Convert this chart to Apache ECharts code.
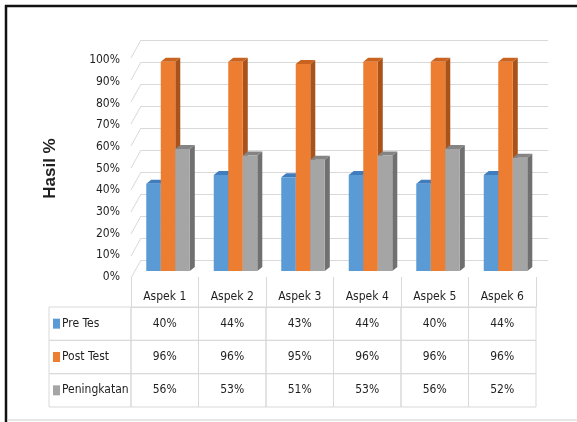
<!DOCTYPE html>
<html>
<head>
<meta charset="utf-8">
<script src="https://cdn.jsdelivr.net/npm/echarts@6/dist/echarts.min.js"></script>
<style>
html,body{margin:0;padding:0;background:#fff;}
#c{width:577px;height:422px;}
</style>
</head>
<body>
<div id="c"></div>
<script>
const categories = ['Aspek 1', 'Aspek 2', 'Aspek 3', 'Aspek 4', 'Aspek 5', 'Aspek 6'];
const seriesNames = ['Pre Tes', 'Post Test', 'Peningkatan'];
const preTes = [40, 44, 43, 44, 40, 44];
const postTest = [96, 96, 95, 96, 96, 96];
const peningkatan = [56, 53, 51, 53, 56, 52];
const yTicks = [0, 10, 20, 30, 40, 50, 60, 70, 80, 90, 100];

const FONT = "'DejaVu Sans Condensed', 'Liberation Sans Narrow', 'Roboto Condensed', sans-serif";
const FS = 12;
const TXT = '#1f1f1f';
const LINE = '#d9d9d9';
const palette = [
  {front: '#5B9BD5', top: '#3F7DBF', side: '#2F6AA6'},
  {front: '#ED7D31', top: '#C9631F', side: '#A9531A'},
  {front: '#A5A5A5', top: '#848484', side: '#707070'}
];
const allValues = [preTes, postTest, peningkatan];

const chart = echarts.init(document.getElementById('c'), null, {renderer: 'canvas'});

function barRender(k) {
  const col = palette[k];
  return function (params, api) {
    const i = api.value(0), v = api.value(1);
    const base = api.coord([i, 0]);
    const tp = api.coord([i, v]);
    const bw = api.size([1, 0])[0];
    const w = bw * 0.215;
    const x0 = base[0] - bw * 0.274 + k * w;
    const x1 = x0 + w;
    const yb = base[1], yt = tp[1];
    const dx = 5, dy = 4;
    return {
      type: 'group',
      children: [
        {type: 'polygon', shape: {points: [[x1, yt], [x1 + dx, yt - dy], [x1 + dx, yb - dy], [x1, yb]]}, style: {fill: col.side}},
        {type: 'polygon', shape: {points: [[x0, yt], [x0 + dx, yt - dy], [x1 + dx, yt - dy], [x1, yt]]}, style: {fill: col.top}},
        {type: 'rect', shape: {x: x0, y: yt, width: w, height: yb - yt}, style: {fill: col.front}}
      ]
    };
  };
}

const tableData = [];
for (let r = 0; r < 3; r++) {
  for (let c = 0; c < categories.length; c++) {
    tableData.push([c, r, allValues[r][c]]);
  }
}

function tableRender(params, api) {
  const c = api.value(0), r = api.value(1), v = api.value(2);
  const p = api.coord([c, r]);
  const s = api.size([1, 1]);
  const x = p[0] - s[0] / 2, y = p[1] - s[1] / 2;
  const children = [
    {type: 'rect', shape: {x: x, y: y, width: s[0], height: s[1]}, style: {fill: 'none', stroke: LINE, lineWidth: 1}},
    {type: 'text', style: {x: p[0], y: p[1], text: v + '%', align: 'center', verticalAlign: 'middle', fill: TXT, font: FS + 'px ' + FONT}}
  ];
  if (c === 0) {
    const hx = 49;
    children.push({type: 'rect', shape: {x: hx, y: y, width: x - hx, height: s[1]}, style: {fill: 'none', stroke: LINE, lineWidth: 1}});
    children.push({type: 'rect', shape: {x: hx + 4, y: p[1] - 5, width: 7, height: 10}, style: {fill: palette[r].front}});
    children.push({type: 'text', style: {x: hx + 13, y: p[1], text: seriesNames[r], align: 'left', verticalAlign: 'middle', fill: TXT, font: FS + 'px ' + FONT}});
  }
  return {type: 'group', children: children};
}

const option = {
  backgroundColor: '#ffffff',
  animation: false,
  grid: [
    {left: 131, top: 60, width: 405, height: 217},
    {left: 141, top: 40, width: 407, height: 220},
    {left: 131, top: 53, width: 405, height: 218},
    {left: 131, top: 307, width: 405, height: 100}
  ],
  xAxis: [
    {gridIndex: 0, type: 'value', min: 0, max: 1, show: false},
    {gridIndex: 1, type: 'value', min: 0, max: 1, show: false},
    {gridIndex: 2, type: 'category', data: categories, show: false},
    {gridIndex: 3, type: 'category', data: categories, position: 'top',
      axisLine: {show: true, lineStyle: {color: LINE, width: 1}},
      axisTick: {show: true, length: 30, inside: false, lineStyle: {color: LINE, width: 1}},
      axisLabel: {margin: 4, fontSize: FS, fontFamily: FONT, color: TXT},
      splitLine: {show: false}}
  ],
  yAxis: [
    {gridIndex: 0, type: 'value', min: 0, max: 100, interval: 10,
      name: 'Hasil %', nameLocation: 'middle', nameGap: 72, nameRotate: 90,
      nameTextStyle: {fontSize: 17, fontWeight: 'bold', fontFamily: "'Liberation Sans', Arial, sans-serif", color: TXT},
      axisLine: {show: false}, axisTick: {show: false}, splitLine: {show: false},
      axisLabel: {formatter: '{value}%', margin: 11, fontSize: FS, fontFamily: FONT, color: TXT}},
    {gridIndex: 1, type: 'value', min: 0, max: 100, interval: 10,
      axisLine: {show: false}, axisTick: {show: false}, axisLabel: {show: false},
      splitLine: {show: true, lineStyle: {color: LINE, width: 1}}},
    {gridIndex: 2, type: 'value', min: 0, max: 100, show: false},
    {gridIndex: 3, type: 'category', data: seriesNames, inverse: true, show: false}
  ],
  series: [
    {type: 'custom', name: 'wall', xAxisIndex: 1, yAxisIndex: 1, clip: false, silent: true,
      data: yTicks.map(function (t) { return [0, t]; }),
      renderItem: function (params, api) {
        const p = api.coord([0, api.value(1)]);
        return {type: 'line', shape: {x1: p[0] - 10, y1: p[1] + 18, x2: p[0], y2: p[1]}, style: {stroke: LINE, lineWidth: 1}};
      }},
    {type: 'custom', name: seriesNames[0], xAxisIndex: 2, yAxisIndex: 2, clip: false,
      data: preTes.map(function (v, i) { return [i, v]; }), renderItem: barRender(0)},
    {type: 'custom', name: seriesNames[1], xAxisIndex: 2, yAxisIndex: 2, clip: false,
      data: postTest.map(function (v, i) { return [i, v]; }), renderItem: barRender(1)},
    {type: 'custom', name: seriesNames[2], xAxisIndex: 2, yAxisIndex: 2, clip: false,
      data: peningkatan.map(function (v, i) { return [i, v]; }), renderItem: barRender(2)},
    {type: 'custom', name: 'table', xAxisIndex: 3, yAxisIndex: 3, clip: false,
      data: tableData, renderItem: tableRender}
  ],
  graphic: [
    {type: 'line', shape: {x1: 5, y1: 6, x2: 577, y2: 6}, style: {stroke: '#111', lineWidth: 2.5}},
    {type: 'line', shape: {x1: 6, y1: 5, x2: 6, y2: 422}, style: {stroke: '#111', lineWidth: 2.5}},
    {type: 'line', shape: {x1: 7, y1: 420, x2: 577, y2: 420}, style: {stroke: '#cfcfcf', lineWidth: 1}}
  ]
};
chart.setOption(option);
</script>
</body>
</html>
